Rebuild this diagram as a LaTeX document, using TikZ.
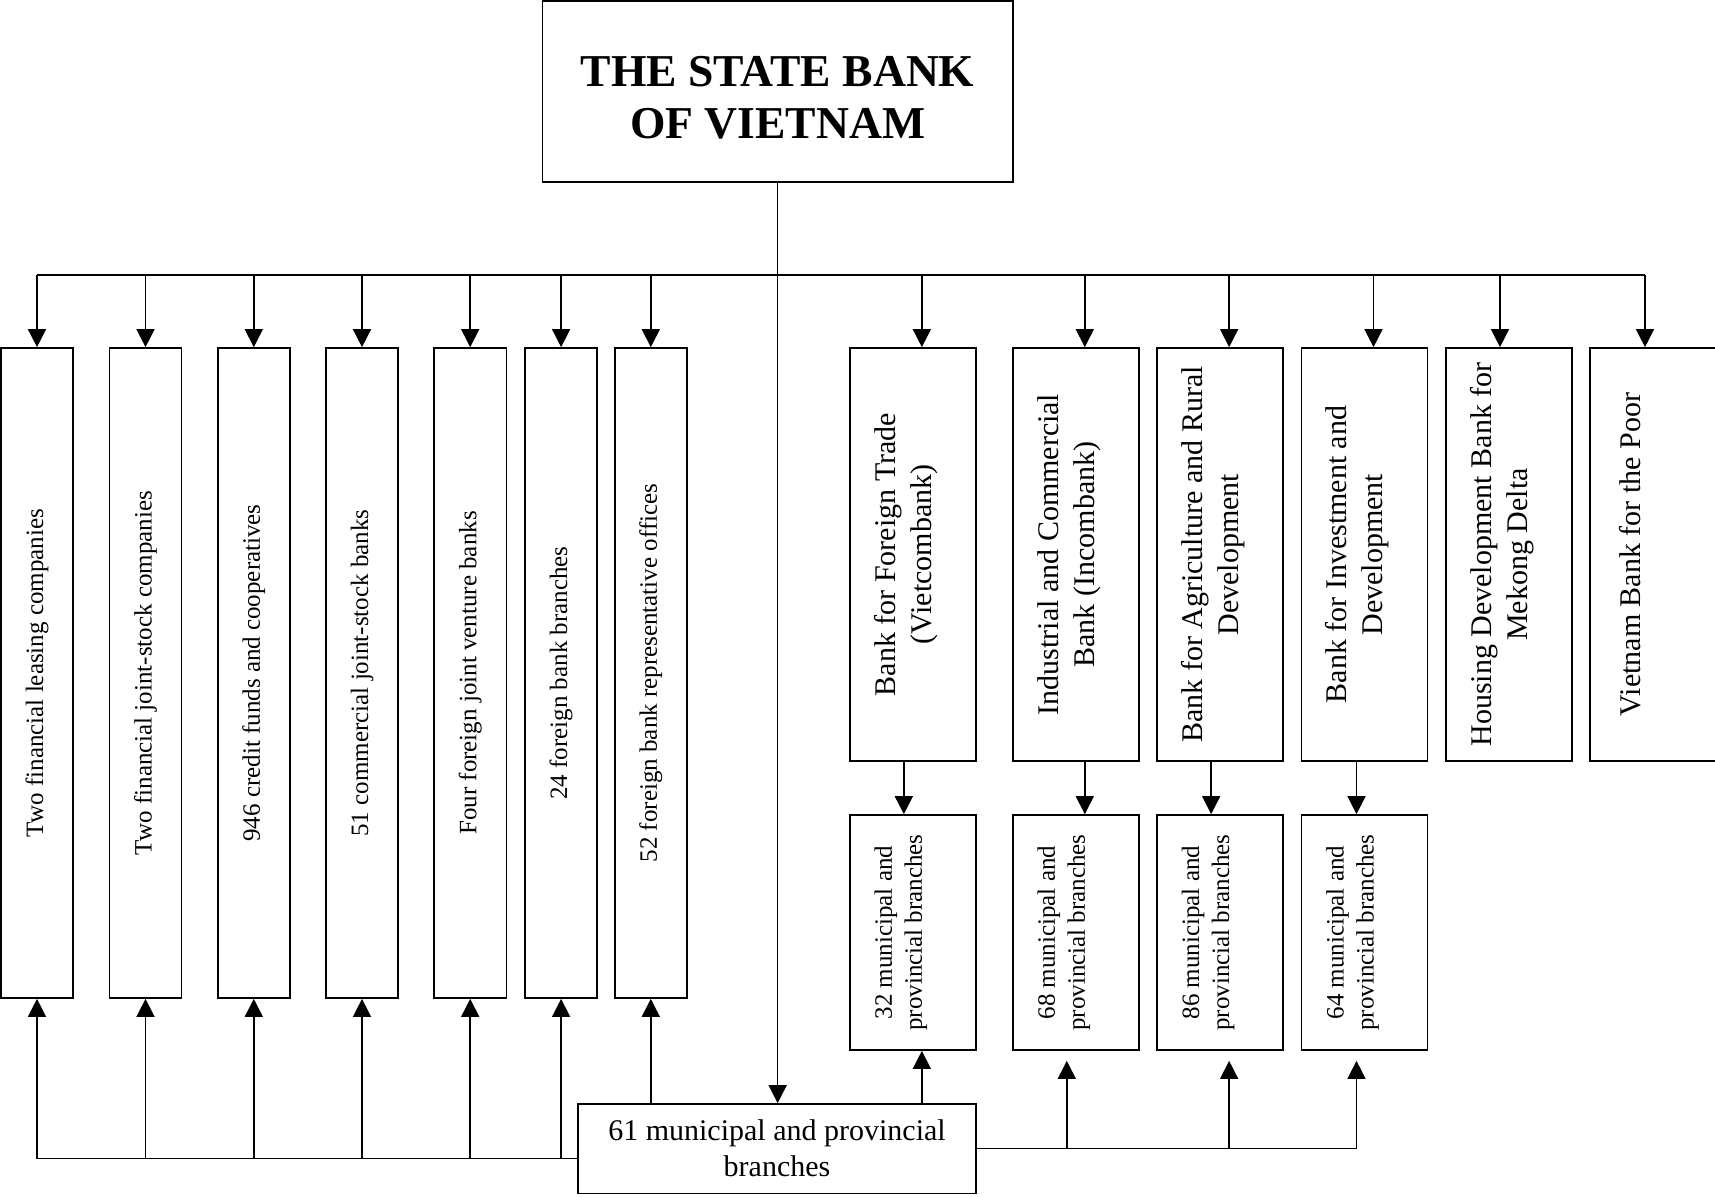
\documentclass[tikz,border=0pt]{standalone}
\usepackage{fontspec}
\setmainfont{Liberation Serif}
\usetikzlibrary{arrows.meta,fit}
\begin{document}
\begin{tikzpicture}[x=0.5pt,y=-0.5pt,
  box/.style={draw, line width=0.85pt, inner sep=0pt},
  conn/.style={line width=0.75pt},
  arr/.style={line width=0.75pt, -{Triangle[length=9pt,width=9pt]}},
  ltext/.style={rotate=90, font=\fontsize{12.5}{15}\selectfont, align=center},
  rtext/.style={rotate=90, font=\fontsize{15}{18}\selectfont, align=center},
  stext/.style={rotate=90, font=\fontsize{12.5}{15}\selectfont, align=center},
]
\useasboundingbox (0,0) rectangle (1715,1196);
\clip (0,0) rectangle (1715,1196);

% top box
\node[box, fit={(542.5,1) (1012.8,182)}] (top) {};
\node[font=\bfseries\fontsize{22.8}{26}\selectfont, align=center] (toptext) at ([yshift=-3pt]top.center) {THE STATE BANK\\OF VIETNAM};

% bottom box
\node[box, fit={(578.3,1104) (975.7,1193.4)}] (bot) {};
\node[font=\fontsize{15}{18}\selectfont, align=center] (bottext) at (bot.center) {61 municipal and provincial\\branches};

% left boxes
\node[box, fit={(1,348) (73,998)}] (L1) {};
\node[box, fit={(109.4,348) (181.6,998)}] (L2) {};
\node[box, fit={(217.7,348) (289.9,998)}] (L3) {};
\node[box, fit={(326,348) (398,998)}] (L4) {};
\node[box, fit={(434,348) (506.4,998)}] (L5) {};
\node[box, fit={(525,348) (597.2,998)}] (L6) {};
\node[box, fit={(614.7,348) (686.9,998)}] (L7) {};
\node[ltext] (tl1) at (L1.center) {Two financial leasing companies};
\node[ltext] (tl2) at (L2.center) {Two financial joint-stock companies};
\node[ltext] (tl3) at (L3.center) {946 credit funds and cooperatives};
\node[ltext] (tl4) at (L4.center) {51 commercial joint-stock banks};
\node[ltext] (tl5) at (L5.center) {Four foreign joint venture banks};
\node[ltext] (tl6) at (L6.center) {24 foreign bank branches};
\node[ltext] (tl7) at (L7.center) {52 foreign bank representative offices};

% right boxes
\node[box, fit={(850,348) (975.7,761)}] (R1) {};
\node[box, fit={(1012.9,348) (1138.7,761)}] (R2) {};
\node[box, fit={(1157.3,348) (1283,761)}] (R3) {};
\node[box, fit={(1301.6,348) (1427.4,761)}] (R4) {};
\node[box, fit={(1446,348) (1572,761)}] (R5) {};
\node[box, fit={(1590,348) (1740,761)}] (R6) {};
\node[rtext] (tr1) at ([xshift=-3.5pt]R1.center) {Bank for Foreign Trade\\(Vietcombank)};
\node[rtext] (tr2) at ([xshift=-3.5pt]R2.center) {Industrial and Commercial\\Bank (Incombank)};
\node[rtext] (tr3) at ([xshift=-3.5pt]R3.center) {Bank for Agriculture and Rural\\Development};
\node[rtext] (tr4) at ([xshift=-3.5pt]R4.center) {Bank for Investment and\\Development};
\node[rtext] (tr5) at ([xshift=-3.5pt]R5.center) {Housing Development Bank for\\Mekong Delta};
\node[rtext] (tr6) at ([xshift=-17.5pt]R6.center) {Vietnam Bank for the Poor};

% sub boxes
\node[box, fit={(850,815) (975.7,1050)}] (S1) {};
\node[box, fit={(1012.9,815) (1138.7,1050)}] (S2) {};
\node[box, fit={(1157.3,815) (1283,1050)}] (S3) {};
\node[box, fit={(1301.6,815) (1427.4,1050)}] (S4) {};
\node[stext] (ts1) at ([xshift=-6pt]S1.center) {32 municipal and\\provincial branches};
\node[stext] (ts2) at ([xshift=-6pt]S2.center) {68 municipal and\\provincial branches};
\node[stext] (ts3) at ([xshift=-6pt]S3.center) {86 municipal and\\provincial branches};
\node[stext] (ts4) at ([xshift=-6pt]S4.center) {64 municipal and\\provincial branches};

% top bus
\coordinate (busL) at (37,275);
\coordinate (busR) at (1645,275);
\draw[conn] (busL) -- (busR);
\draw[arr] (top.south) -- (top.south |- bot.north);
\foreach \b in {L1,L2,L3,L4,L5,L6,L7}{
  \draw[arr] (\b.north |- busL) -- (\b.north);
}
\coordinate (a1) at ([xshift=4.5pt]R1.north);
\coordinate (a2) at ([xshift=4.5pt]R2.north);
\coordinate (a3) at ([xshift=4.5pt]R3.north);
\coordinate (a4) at ([xshift=4.5pt]R4.north);
\coordinate (a5) at ([xshift=-4.5pt]R5.north);
\coordinate (a6) at ([xshift=-10pt]R6.north);
\foreach \a in {a1,a2,a3,a4,a5,a6}{
  \draw[arr] (\a |- busL) -- (\a);
}

% down to sub boxes
\coordinate (d1) at ([xshift=-4.5pt]S1.north);
\coordinate (d2) at ([xshift=4.5pt]S2.north);
\coordinate (d3) at ([xshift=-4.5pt]S3.north);
\coordinate (d4) at ([xshift=-4pt]S4.north);
\draw[arr] (d1 |- R1.south) -- (d1);
\draw[arr] (d2 |- R2.south) -- (d2);
\draw[arr] (d3 |- R3.south) -- (d3);
\draw[arr] (d4 |- R4.south) -- (d4);

% bottom left bus
\coordinate (lbus) at ([yshift=-4.9pt]bot.west);
\draw[conn] (lbus) -- (L1.south |- lbus);
\foreach \b in {L1,L2,L3,L4,L5,L6}{
  \draw[arr] (\b.south |- lbus) -- (\b.south);
}
\draw[arr] (L7.south |- bot.north) -- (L7.south);

% bottom right
\coordinate (u1) at ([xshift=4.5pt]S1.south);
\draw[arr] (u1 |- bot.north) -- (u1);
\coordinate (u2) at ([xshift=-4.5pt,yshift=-5pt]S2.south);
\coordinate (u3) at ([xshift=4.5pt,yshift=-5pt]S3.south);
\coordinate (u4) at ([xshift=-4pt,yshift=-5pt]S4.south);
\draw[conn] (bot.east) -- (u4 |- bot.east);
\draw[arr] (u2 |- bot.east) -- (u2);
\draw[arr] (u3 |- bot.east) -- (u3);
\draw[arr] (u4 |- bot.east) -- (u4);
\end{tikzpicture}
\end{document}
